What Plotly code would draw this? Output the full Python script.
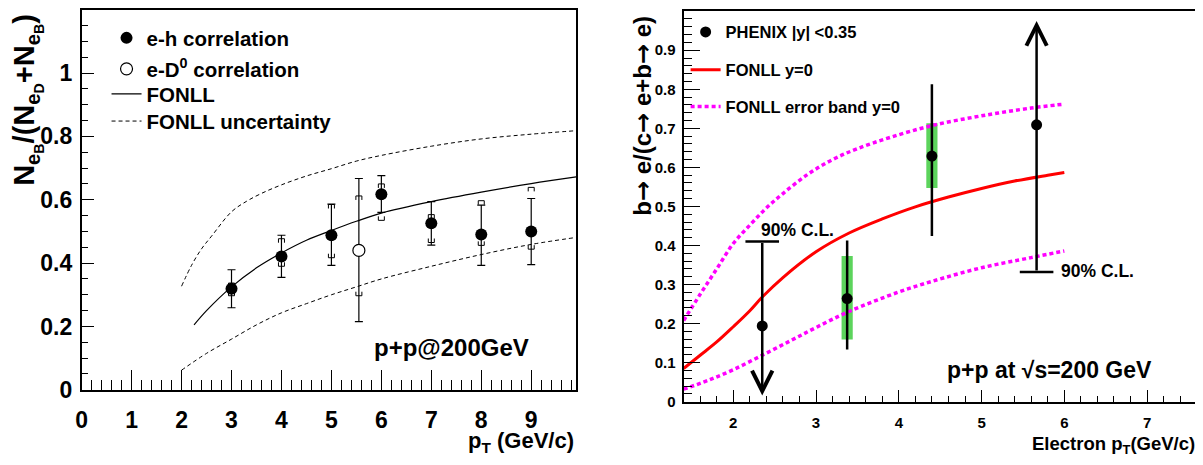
import plotly.graph_objects as go

# ---------------- Left panel data ----------------
eh_pt = [3, 4, 5, 6, 7, 8, 9]
eh_ratio = [0.319, 0.421, 0.488, 0.617, 0.526, 0.490, 0.500]
eh_stat_hi = [0.379, 0.488, 0.586, 0.676, 0.594, 0.583, 0.604]
eh_stat_lo = [0.259, 0.355, 0.393, 0.560, 0.457, 0.393, 0.395]
eh_sys_hi = [0.337, 0.477, 0.585, 0.650, 0.553, 0.597, 0.639]
eh_sys_lo = [0.297, 0.390, 0.417, 0.535, 0.465, 0.456, 0.444]

ed_pt = [5.55]
ed_ratio = [0.440]
ed_stat_hi = [0.667]
ed_stat_lo = [0.215]
ed_sys_hi = [0.612]
ed_sys_lo = [0.297]

fonll_pt = [2.25, 2.5, 3.0, 3.5, 4.0, 4.5, 5.0, 5.5, 6.0, 7.0, 8.0, 9.0, 9.9]
fonll_ratio = [0.205, 0.250, 0.325, 0.385, 0.432, 0.472, 0.503, 0.532, 0.558, 0.594, 0.624, 0.651, 0.672]

unc_hi_pt = [2.0, 2.2, 2.4, 2.6, 3.0, 3.3, 3.6, 4.0, 4.5, 5.0, 5.5, 6.0, 7.0, 8.0, 9.0, 9.9]
unc_hi = [0.327, 0.393, 0.445, 0.485, 0.562, 0.595, 0.620, 0.647, 0.675, 0.698, 0.722, 0.740, 0.769, 0.792, 0.807, 0.818]

unc_lo_pt = [2.0, 2.5, 3.0, 3.5, 4.0, 4.5, 5.0, 5.5, 6.0, 7.0, 8.0, 9.0, 9.9]
unc_lo = [0.062, 0.115, 0.160, 0.205, 0.243, 0.272, 0.300, 0.325, 0.350, 0.390, 0.427, 0.459, 0.481]

# ---------------- Right panel data ----------------
meas_pt = [3.376, 4.40]
meas_ratio = [0.264, 0.629]
meas_stat_hi = [0.413, 0.813]
meas_stat_lo = [0.134, 0.424]
meas_sys_hi = [0.373, 0.713]
meas_sys_lo = [0.159, 0.547]

ul_pt = [2.35]          # upper limit point
ul_ratio = [0.194]
ul_value = [0.41]
ul_arrow_end = [0.016]

ll_pt = [5.665]         # lower limit point
ll_ratio = [0.709]
ll_value = [0.332]
ll_arrow_end = [0.975]

fonll2_pt = [1.4, 1.6, 1.8, 2.0, 2.2, 2.35, 2.6, 3.0, 3.4, 3.8, 4.2, 4.6, 5.0, 5.4, 5.8, 6.0]
fonll2 = [0.085, 0.119, 0.153, 0.192, 0.233, 0.268, 0.318, 0.384, 0.432, 0.468, 0.499, 0.524, 0.546, 0.565, 0.580, 0.587]

band_hi_pt = [1.4, 1.6, 1.8, 2.0, 2.2, 2.4, 2.6, 2.9, 3.2, 3.5, 3.9, 4.4, 5.0, 5.6, 6.0]
band_hi = [0.208, 0.275, 0.340, 0.405, 0.452, 0.496, 0.533, 0.582, 0.620, 0.648, 0.677, 0.707, 0.732, 0.752, 0.762]

band_lo_pt = [1.4, 1.7, 2.0, 2.35, 2.7, 3.0, 3.4, 4.0, 4.4, 5.0, 5.6, 6.0]
band_lo = [0.032, 0.055, 0.082, 0.119, 0.157, 0.190, 0.231, 0.281, 0.308, 0.343, 0.369, 0.386]

# ---------------- Style / page geometry ----------------
FONT = "Liberation Sans, Arial, sans-serif"
ARROW_FONT = "DejaVu Sans"
GREEN = "rgb(92,212,92)"
MAGENTA = "#FF00FF"
RED = "#FF0000"

OFF = 8                 # default page margin of the html body
W, H = 1203 - OFF, 465 - OFF


def PX(X):
    return (X - OFF) / W


def PY(Y):
    return max(0.0, min(1.0, 1 - (Y - OFF) / H))


fig = go.Figure()

# ---- left panel traces ----
fig.add_trace(go.Scatter(
    x=fonll_pt, y=fonll_ratio, mode="lines", name="FONLL",
    line=dict(color="black", width=1.2, shape="spline"), xaxis="x", yaxis="y", legend="legend3"))
fig.add_trace(go.Scatter(
    x=unc_hi_pt, y=unc_hi, mode="lines", name="FONLL uncertainty",
    line=dict(color="black", width=1, dash="4px,3px", shape="spline"), xaxis="x", yaxis="y", legend="legend4"))
fig.add_trace(go.Scatter(
    x=unc_lo_pt, y=unc_lo, mode="lines", showlegend=False,
    line=dict(color="black", width=1, dash="4px,3px", shape="spline"), xaxis="x", yaxis="y"))
fig.add_trace(go.Scatter(
    x=eh_pt, y=eh_ratio, mode="markers", name="e-h correlation",
    marker=dict(symbol="circle", size=12, color="black"),
    error_y=dict(type="data", symmetric=False,
                 array=[h - v for h, v in zip(eh_stat_hi, eh_ratio)],
                 arrayminus=[v - l for l, v in zip(eh_stat_lo, eh_ratio)],
                 color="black", thickness=1.2, width=4),
    xaxis="x", yaxis="y", legend="legend"))
fig.add_trace(go.Scatter(
    x=ed_pt, y=ed_ratio, mode="markers", name="e-D<sup>0</sup> correlation",
    marker=dict(symbol="circle", size=12, color="white", line=dict(color="black", width=1.2)),
    error_y=dict(type="data", symmetric=False,
                 array=[h - v for h, v in zip(ed_stat_hi, ed_ratio)],
                 arrayminus=[v - l for l, v in zip(ed_stat_lo, ed_ratio)],
                 color="black", thickness=1.2, width=4),
    xaxis="x", yaxis="y", legend="legend2"))

# ---- right panel traces ----
fig.add_trace(go.Bar(
    x=meas_pt, y=[h - l for h, l in zip(meas_sys_hi, meas_sys_lo)], base=meas_sys_lo,
    width=0.135, marker=dict(color=GREEN, line=dict(width=0)), showlegend=False,
    xaxis="x2", yaxis="y2"))
fig.add_trace(go.Scatter(
    x=band_hi_pt, y=band_hi, mode="lines", name="FONLL error band y=0",
    line=dict(color=MAGENTA, width=3.5, dash="4px,3px", shape="spline"), xaxis="x2", yaxis="y2", legend="legend7"))
fig.add_trace(go.Scatter(
    x=band_lo_pt, y=band_lo, mode="lines", showlegend=False,
    line=dict(color=MAGENTA, width=3.5, dash="4px,3px", shape="spline"), xaxis="x2", yaxis="y2"))
fig.add_trace(go.Scatter(
    x=fonll2_pt, y=fonll2, mode="lines", name="FONLL y=0",
    line=dict(color=RED, width=3, shape="spline"), xaxis="x2", yaxis="y2", legend="legend6"))
fig.add_trace(go.Scatter(
    x=meas_pt, y=meas_ratio, mode="markers", name="PHENIX |y| <0.35",
    marker=dict(symbol="circle", size=11, color="black"),
    error_y=dict(type="data", symmetric=False,
                 array=[h - v for h, v in zip(meas_stat_hi, meas_ratio)],
                 arrayminus=[v - l for l, v in zip(meas_stat_lo, meas_ratio)],
                 color="black", thickness=2.5, width=0),
    xaxis="x2", yaxis="y2", legend="legend5"))
# limit caps
fig.add_trace(go.Scatter(
    x=ul_pt + ll_pt, y=ul_value + ll_value, mode="markers", showlegend=False,
    marker=dict(symbol="line-ew", size=24, line=dict(color="black", width=2.5)),
    xaxis="x2", yaxis="y2"))
# limit points
fig.add_trace(go.Scatter(
    x=ul_pt + ll_pt, y=ul_ratio + ll_ratio, mode="markers", showlegend=False,
    marker=dict(symbol="circle", size=11, color="black"),
    xaxis="x2", yaxis="y2"))

annotations = []
# arrows for limits
for px, v, end in zip(ul_pt + ll_pt, ul_value + ll_value, ul_arrow_end + ll_arrow_end):
    annotations.append(dict(
        x=px, y=end, ax=px, ay=v, xref="x2", yref="y2", axref="x2", ayref="y2",
        text="", showarrow=True, arrowhead=5, arrowsize=1.6, arrowwidth=2.5,
        arrowcolor="black", standoff=0, startstandoff=0))


def txt(text, x, y, size, xref="paper", yref="paper", xanchor="center", yanchor="middle", angle=0):
    annotations.append(dict(
        text=text, x=x, y=y, xref=xref, yref=yref, xanchor=xanchor, yanchor=yanchor,
        showarrow=False, textangle=angle,
        font=dict(family=FONT, size=size, color="black", weight="bold")))


ARR = "<span style='font-family:%s'>\u2192</span>" % ARROW_FONT

txt("p+p@200GeV", 7.41, 0.133, 24, xref="x", yref="y")
txt("p+p at \u221As=200 GeV", 5.82, 0.082, 23, xref="x2", yref="y2")
txt("90% C.L.", 2.78, 0.44, 17.5, xref="x2", yref="y2")
txt("90% C.L.", 6.4, 0.335, 17.5, xref="x2", yref="y2")
txt("p<sub>T</sub> (GeV/c)", PX(573), PY(455), 22, xanchor="right")
txt("Electron p<sub>T</sub>(GeV/c)", PX(1197), PY(458), 18.5, xanchor="right")
txt("N<sub>e<sub>B</sub></sub>/(N<sub>e<sub>D</sub></sub>+N<sub>e<sub>B</sub></sub>)",
    PX(22), PY(10), 29, yanchor="top", angle=-90)
txt("b" + ARR + " e/(c" + ARR + " e+b" + ARR + " e)", PX(640), PY(12), 24, yanchor="top", angle=-90)

# systematic brackets for left panel
shapes = []
for px, hi, lo in zip(eh_pt + ed_pt, eh_sys_hi + ed_sys_hi, eh_sys_lo + ed_sys_lo):
    shapes.append(dict(type="path", xref="x", yref="y", xsizemode="pixel", ysizemode="pixel",
                       xanchor=px, yanchor=hi, path="M-3,-4L-3,0L3,0L3,-4",
                       line=dict(color="black", width=1)))
    shapes.append(dict(type="path", xref="x", yref="y", xsizemode="pixel", ysizemode="pixel",
                       xanchor=px, yanchor=lo, path="M-3,4L-3,0L3,0L3,4",
                       line=dict(color="black", width=1)))


def legend_box(x_px, y_px, size):
    return dict(x=PX(x_px), y=PY(y_px), xanchor="left", yanchor="middle",
                bgcolor="rgba(0,0,0,0)", borderwidth=0,
                font=dict(family=FONT, size=size, color="black", weight="bold"))


axis_common = dict(showline=True, linecolor="black", mirror=True, ticks="inside",
                   tickcolor="black", tickwidth=1, showgrid=False, zeroline=False)

fig.update_layout(
    width=W, height=H, margin=dict(l=0, r=0, t=0, b=0),
    paper_bgcolor="white", plot_bgcolor="white",
    font=dict(family=FONT, color="black", weight="bold"),
    showlegend=True,
    xaxis=dict(domain=[PX(76), PX(573)], range=[0, 9.9], anchor="y",
               tick0=0, dtick=1, ticklen=20, linewidth=1.5,
               minor=dict(ticks="inside", ticklen=10, tick0=0, dtick=0.2, tickcolor="black", tickwidth=1),
               tickfont=dict(family=FONT, size=23, weight="bold"), ticklabelstandoff=9, **axis_common),
    yaxis=dict(domain=[PY(400.7), PY(7.3)], range=[0, 1.199], anchor="x",
               tick0=0, dtick=0.2, ticklen=13, linewidth=1.5,
               minor=dict(ticks="inside", ticklen=7, tick0=0, dtick=0.05, tickcolor="black", tickwidth=1),
               tickfont=dict(family=FONT, size=23, weight="bold"), ticklabelstandoff=3, **axis_common),
    xaxis2=dict(domain=[PX(681), PX(1196.7)], range=[1.4, 7.6], anchor="y2",
                tick0=0, dtick=1, ticklen=12, linewidth=2,
                minor=dict(ticks="inside", ticklen=6, tick0=0, dtick=0.2, tickcolor="black", tickwidth=1),
                tickfont=dict(family=FONT, size=15, weight="bold"), ticklabelstandoff=6, **axis_common),
    yaxis2=dict(domain=[PY(413), PY(9)], range=[0, 1.0005], anchor="x2",
                tick0=0, dtick=0.1, ticklen=16, linewidth=2,
                minor=dict(ticks="inside", ticklen=8, tick0=0, dtick=0.02, tickcolor="black", tickwidth=1),
                tickfont=dict(family=FONT, size=15, weight="bold"), ticklabelstandoff=3, **axis_common),
    legend=legend_box(101, 37, 20.5),
    legend2=legend_box(101, 69, 20.5),
    legend3=legend_box(101, 95, 20.5),
    legend4=legend_box(101, 123, 20.5),
    legend5=legend_box(683, 31, 16.5),
    legend6=legend_box(683, 70, 16.5),
    legend7=legend_box(683, 108, 16.5),
    annotations=annotations,
    shapes=shapes,
)

fig.write_html("out.html")
